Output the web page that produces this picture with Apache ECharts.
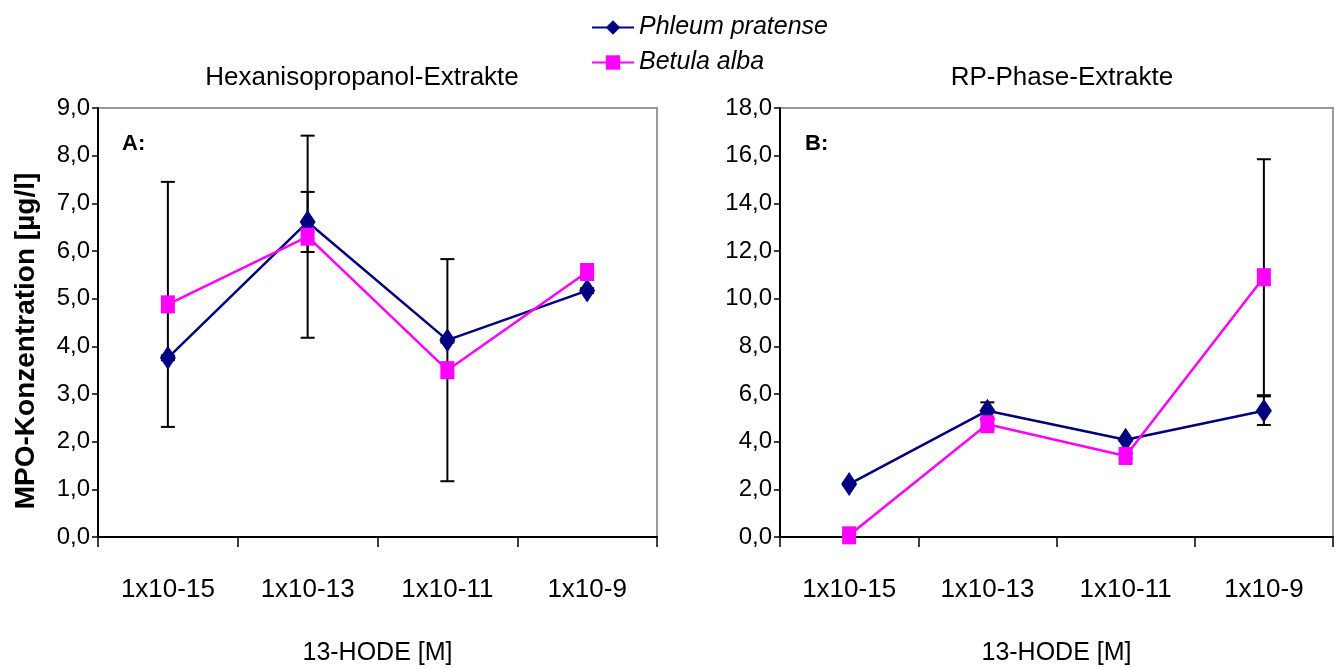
<!DOCTYPE html>
<html>
<head>
<meta charset="utf-8">
<script src="https://cdn.jsdelivr.net/npm/echarts@6/dist/echarts.min.js"></script>
<style>
  html, body { margin: 0; padding: 0; background: #fff; }
  #chart { width: 1335px; height: 668px; }
</style>
</head>
<body>
<div id="chart"></div>
<script>
// Kategorien (13-HODE Konzentration)
const categories = ['1x10-15', '1x10-13', '1x10-11', '1x10-9'];

// A: Hexanisopropanol-Extrakte
const hexPhleum = [3.76, 6.61, 4.13, 5.17];
const hexPhleumErr = [0.05, 0.63, 0.05, 0.05];
const hexBetula = [4.88, 6.30, 3.50, 5.56];
const hexBetulaErr = [2.57, 2.12, 2.33, 0.05];

// B: RP-Phase-Extrakte
const rpPhleum = [2.22, 5.30, 4.08, 5.30];
const rpPhleumErr = [0.05, 0.35, 0.05, 0.60];
const rpBetula = [0.07, 4.73, 3.40, 10.90];
const rpBetulaErr = [0.05, 0.20, 0.10, 4.95];

const FONT = 'Liberation Sans, Arial, sans-serif';
const NAVY = '#000080';
const PINK = '#ff00ff';

const chart = echarts.init(document.getElementById('chart'));

// Fehlerbalken [index, unten, oben]
const errData = (vals, errs) => vals.map((v, i) => [i, v - errs[i], v + errs[i]]);

const renderErr = (params, api) => {
    const i = api.value(0);
    const lo = api.coord([i, api.value(1)]);
    const hi = api.coord([i, api.value(2)]);
    const w = 7;
    const style = { stroke: '#000', lineWidth: 2 };
    return {
        type: 'group',
        children: [
            { type: 'line', shape: { x1: lo[0], y1: lo[1], x2: hi[0], y2: hi[1] }, style: style },
            { type: 'line', shape: { x1: lo[0] - w, y1: lo[1], x2: lo[0] + w, y2: lo[1] }, style: style },
            { type: 'line', shape: { x1: hi[0] - w, y1: hi[1], x2: hi[0] + w, y2: hi[1] }, style: style }
        ]
    };
};

const errSeries = (vals, errs, idx) => ({
    type: 'custom',
    xAxisIndex: idx,
    yAxisIndex: idx,
    renderItem: renderErr,
    data: errData(vals, errs),
    z: 1,
    silent: true
});

const lineSeries = (name, vals, idx, color, symbol, size) => ({
    name: name,
    type: 'line',
    xAxisIndex: idx,
    yAxisIndex: idx,
    data: vals,
    symbol: symbol,
    symbolSize: size,
    lineStyle: { color: color, width: 2.5 },
    itemStyle: { color: color },
    z: 3,
    animation: false
});

const fmt = v => v.toFixed(1).replace('.', ',');

const xAxisBase = idx => ({
    type: 'category',
    gridIndex: idx,
    data: categories,
    boundaryGap: true,
    name: '13-HODE [M]',
    nameLocation: 'middle',
    nameGap: 104,
    nameTextStyle: { fontFamily: FONT, fontSize: 25, color: '#000' },
    axisLine: { lineStyle: { color: '#000', width: 2 } },
    axisTick: { show: true, length: 10, lineStyle: { color: '#000', width: 1.5 } },
    axisLabel: { fontFamily: FONT, fontSize: 26, color: '#000', margin: 40 },
    splitLine: { show: false }
});

const yAxisBase = (idx, max, interval) => ({
    type: 'value',
    gridIndex: idx,
    min: 0,
    max: max,
    interval: interval,
    axisLine: { show: true, lineStyle: { color: '#000', width: 2 } },
    axisTick: { show: true, length: 6, lineStyle: { color: '#000', width: 1.5 } },
    axisLabel: { fontFamily: FONT, fontSize: 24, color: '#000', margin: 8, formatter: fmt },
    splitLine: { show: false }
});

const option = {
    animation: false,
    title: [
        { text: 'Hexanisopropanol-Extrakte', left: 357, top: 60, textAlign: 'center',
          textStyle: { fontFamily: FONT, fontSize: 26, fontWeight: 'normal', color: '#000' } },
        { text: 'RP-Phase-Extrakte', left: 1057, top: 60, textAlign: 'center',
          textStyle: { fontFamily: FONT, fontSize: 26, fontWeight: 'normal', color: '#000' } },
        { text: 'A:', left: 117, top: 128,
          textStyle: { fontFamily: FONT, fontSize: 22, fontWeight: 'bold', color: '#000' } },
        { text: 'B:', left: 800, top: 128,
          textStyle: { fontFamily: FONT, fontSize: 22, fontWeight: 'bold', color: '#000' } }
    ],
    legend: {
        orient: 'vertical',
        left: 586,
        top: 10,
        itemWidth: 42,
        itemHeight: 18,
        itemGap: 10,
        data: ['Phleum pratense', 'Betula alba'],
        textStyle: { fontFamily: FONT, fontSize: 25, fontStyle: 'italic', color: '#000' }
    },
    grid: [
        { left: 98, top: 108, width: 559, height: 429, show: true, borderColor: '#999', borderWidth: 2,
          outerBoundsMode: 'none', containLabel: false },
        { left: 780, top: 108, width: 553, height: 429, show: true, borderColor: '#999', borderWidth: 2,
          outerBoundsMode: 'none', containLabel: false }
    ],
    xAxis: [xAxisBase(0), xAxisBase(1)],
    yAxis: [yAxisBase(0, 9, 1), yAxisBase(1, 18, 2)],
    graphic: [
        { type: 'text', x: 26, y: 341, rotation: Math.PI / 2,
          style: { text: 'MPO-Konzentration [µg/l]', fontFamily: FONT, fontSize: 28, fontWeight: 'bold',
                   fill: '#000', textAlign: 'center', textVerticalAlign: 'middle' } }
    ],
    series: [
        errSeries(hexPhleum, hexPhleumErr, 0),
        errSeries(hexBetula, hexBetulaErr, 0),
        errSeries(rpPhleum, rpPhleumErr, 1),
        errSeries(rpBetula, rpBetulaErr, 1),
        lineSeries('Phleum pratense', hexPhleum, 0, NAVY, 'diamond', [16, 24]),
        lineSeries('Betula alba', hexBetula, 0, PINK, 'rect', [14, 18]),
        lineSeries('Phleum pratense', rpPhleum, 1, NAVY, 'diamond', [16, 24]),
        lineSeries('Betula alba', rpBetula, 1, PINK, 'rect', [14, 18])
    ]
};

chart.setOption(option);
</script>
</body>
</html>
